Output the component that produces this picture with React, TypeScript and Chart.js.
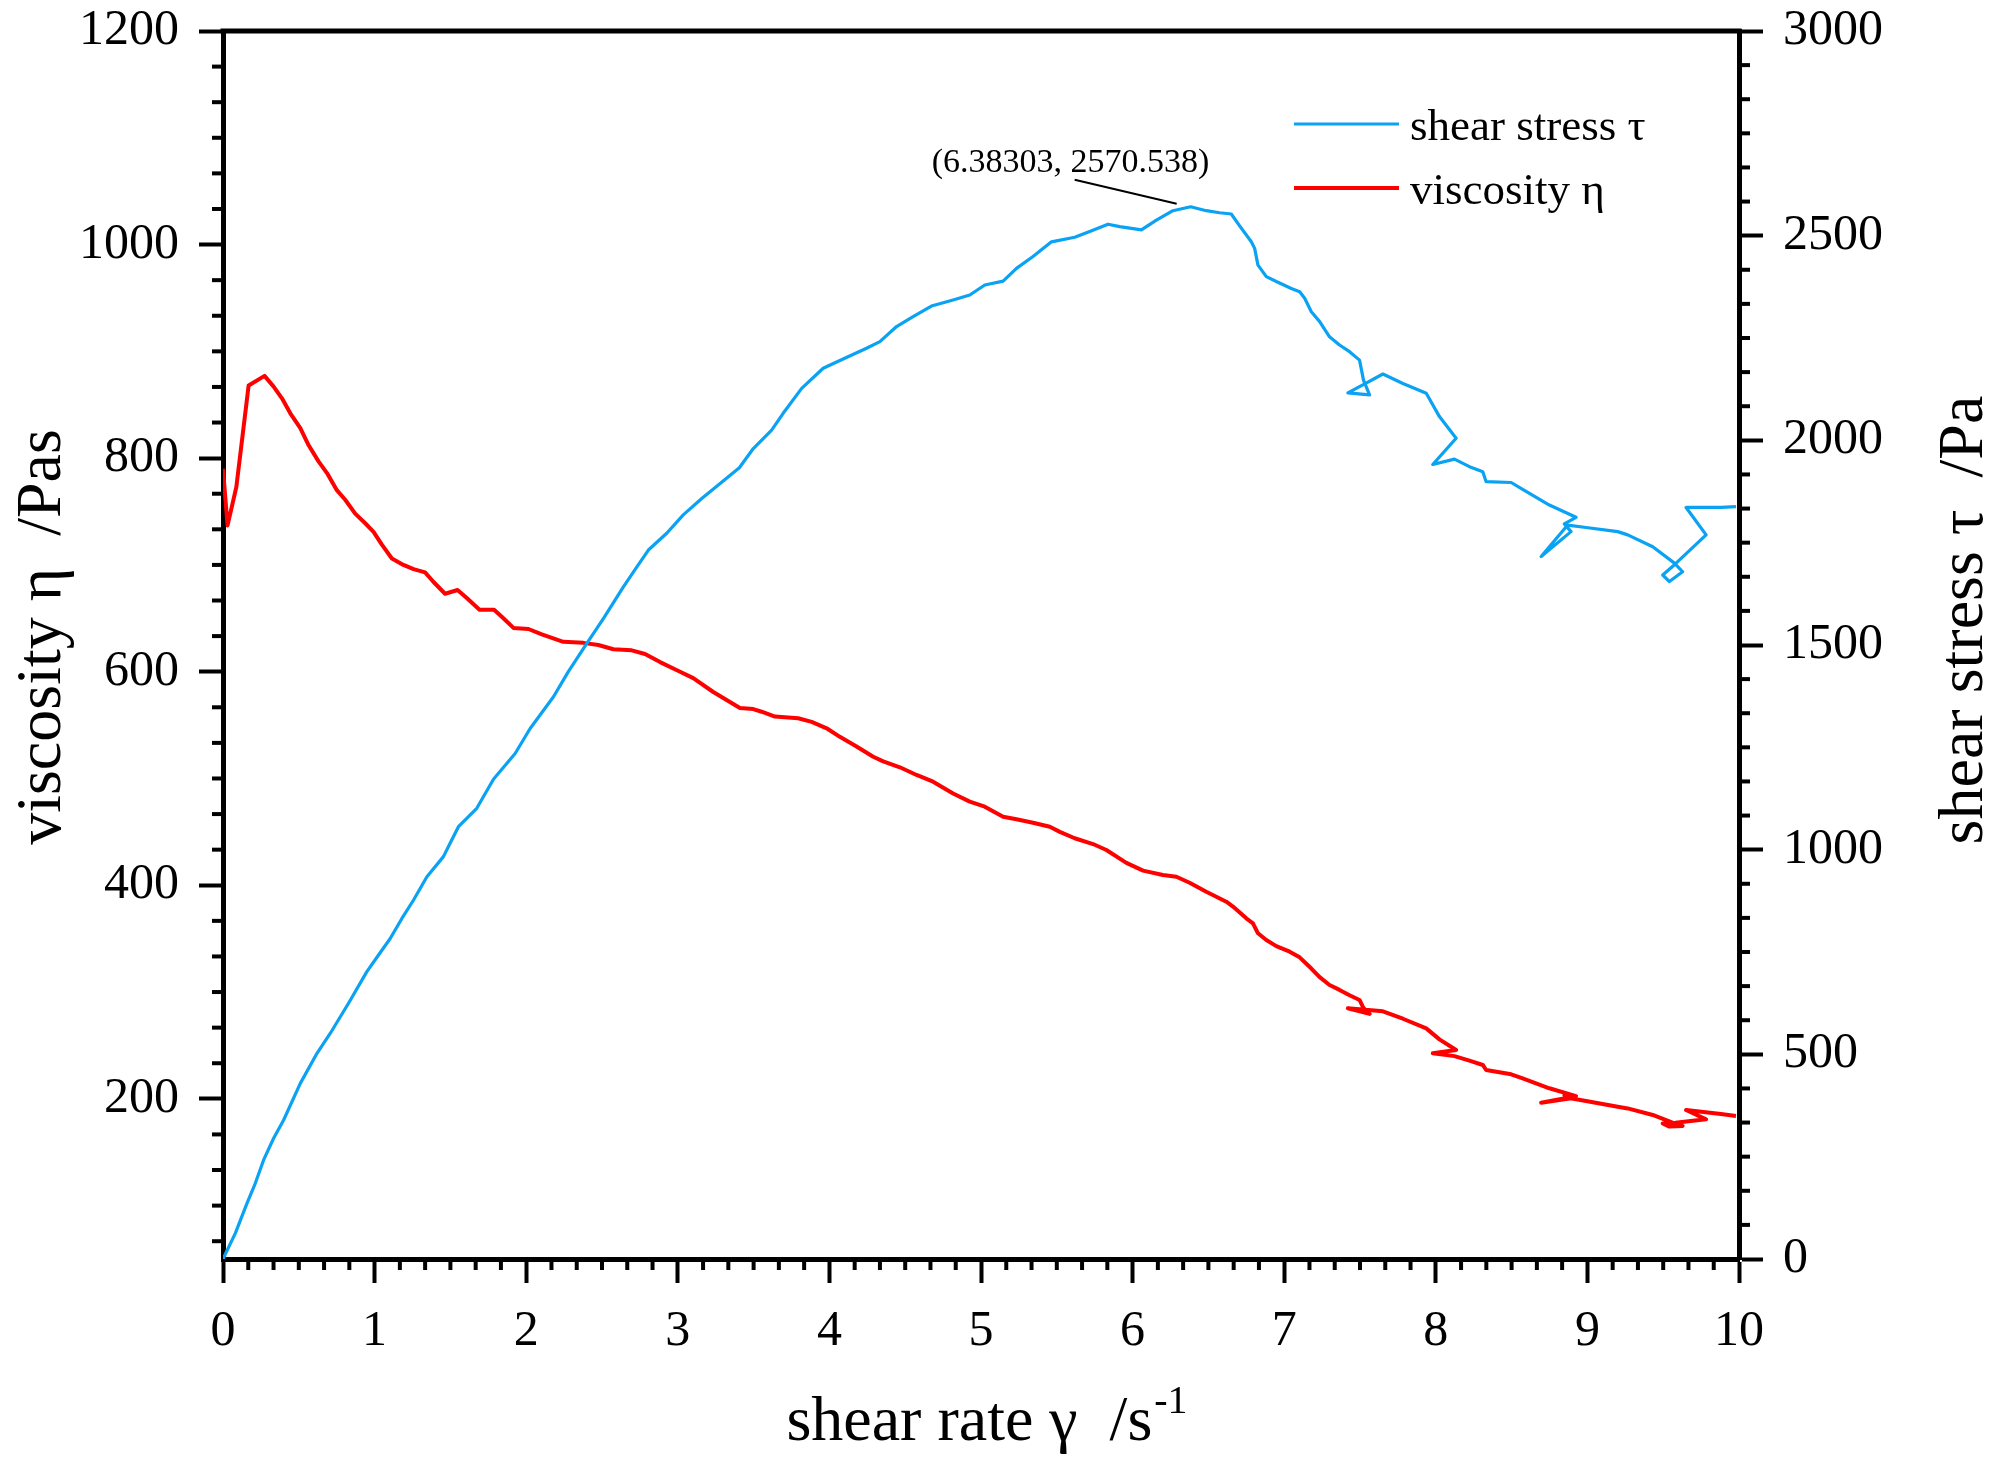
// App.tsx
import { useEffect, useRef } from 'react';
import { Chart, registerables, Plugin } from 'chart.js';

Chart.register(...registerables);

const SERIF = '"Liberation Serif", "Times New Roman", serif';
const BLUE = '#0AA2F2';
const RED = '#FF0000';

// shear stress tau (right axis) vs shear rate
const rateTau = [
    0, 0.081, 0.158, 0.213, 0.268, 0.334, 0.4, 0.51, 0.62, 0.707,
    0.828, 0.949, 1.026, 1.103, 1.18, 1.257, 1.345, 1.454, 1.498, 1.553,
    1.674, 1.784, 1.927, 2.026, 2.18, 2.278, 2.4, 2.51, 2.641, 2.73,
    2.806, 2.927, 3.036, 3.158, 3.267, 3.406, 3.498, 3.619, 3.695, 3.817,
    3.959, 4.069, 4.245, 4.333, 4.443, 4.552, 4.673, 4.816, 4.926, 5.025,
    5.146, 5.234, 5.343, 5.465, 5.618, 5.717, 5.838, 5.915, 6.058, 6.157,
    6.266, 6.38303, 6.486, 6.574, 6.651, 6.706, 6.783, 6.805, 6.827, 6.882,
    6.948, 7.047, 7.102, 7.135, 7.179, 7.234, 7.299, 7.365, 7.431, 7.497,
    7.523, 7.563, 7.42, 7.537, 7.651, 7.783, 7.937, 8.024, 8.134, 7.98,
    8.123, 8.222, 8.31, 8.332, 8.497, 8.573, 8.749, 8.925, 8.848, 8.892,
    8.695, 8.87, 8.991, 9.2, 9.266, 9.431, 9.574, 9.628, 9.541, 9.497,
    9.58, 9.783, 9.651, 9.881, 9.98,
];
const tau = [
    0, 62.7, 136, 185, 242, 295, 339.6, 429, 502.5, 551,
    624.7, 702, 742.7, 783, 832, 877, 934, 983, 1015.6, 1056,
    1101, 1172, 1235, 1296, 1373.7, 1435, 1504, 1565, 1642, 1691,
    1732, 1773, 1818, 1858, 1891, 1933, 1980, 2025, 2066, 2127,
    2176, 2195, 2225, 2241, 2278, 2302, 2328, 2343, 2355, 2379.5,
    2389, 2420, 2449, 2485, 2496, 2510, 2528, 2522, 2514, 2538,
    2561, 2570.538, 2561, 2556, 2553, 2524, 2485, 2469, 2428, 2400,
    2388, 2371, 2363, 2347, 2314, 2290, 2253, 2233, 2216.6, 2196,
    2147, 2111, 2116, 2139, 2162, 2139, 2115, 2058, 2005, 1941,
    1954, 1935.6, 1923, 1899, 1897, 1880, 1842, 1812, 1796, 1777,
    1716, 1793, 1787, 1777, 1769, 1740, 1700, 1679, 1655, 1671,
    1698, 1769, 1836, 1836, 1838,
];

// viscosity eta (left axis) vs shear rate
const rateEta = [
    0, 0.03, 0.088, 0.169, 0.274, 0.334, 0.389, 0.444, 0.51, 0.565,
    0.63, 0.686, 0.751, 0.806, 0.872, 0.938, 0.993, 1.048, 1.114, 1.19,
    1.257, 1.333, 1.389, 1.465, 1.547, 1.608, 1.692, 1.788, 1.839, 1.916,
    2.015, 2.103, 2.245, 2.377, 2.476, 2.575, 2.696, 2.784, 2.883, 3.015,
    3.102, 3.234, 3.41, 3.498, 3.553, 3.641, 3.794, 3.883, 3.982, 4.069,
    4.179, 4.289, 4.355, 4.465, 4.575, 4.684, 4.816, 4.926, 5.025, 5.146,
    5.234, 5.343, 5.454, 5.52, 5.618, 5.739, 5.827, 5.959, 6.069, 6.2,
    6.289, 6.376, 6.486, 6.618, 6.662, 6.75, 6.794, 6.827, 6.882, 6.948,
    7.036, 7.102, 7.179, 7.234, 7.299, 7.365, 7.431, 7.497, 7.523, 7.563,
    7.42, 7.537, 7.651, 7.783, 7.937, 8.024, 8.134, 7.98, 8.123, 8.222,
    8.31, 8.332, 8.497, 8.573, 8.749, 8.925, 8.848, 8.892, 8.695, 8.87,
    8.991, 9.2, 9.266, 9.431, 9.574, 9.628, 9.541, 9.497, 9.58, 9.783,
    9.651, 9.881, 9.98,
];
const eta = [
    790, 737, 773, 868, 877, 867, 856, 842, 828, 812,
    797, 786, 770, 761, 748, 739, 731, 719, 706, 700,
    696, 693, 684, 673, 676.5, 669, 658, 658, 651.5, 641,
    640, 635, 628, 627, 625, 621, 620, 616.6, 609, 600,
    594, 581, 566, 565, 562.5, 558, 556.4, 553, 547, 539,
    530, 520.4, 516, 510.5, 503.3, 497, 486, 478.3, 473.6, 464.2,
    461.8, 458.6, 454.8, 450, 444, 438.6, 433, 421, 413.7, 409.6,
    408, 402.4, 394, 384.6, 380, 369, 364.4, 355, 348.7, 343,
    337.8, 332.5, 322, 314, 306.6, 302, 297, 292.6, 285, 279.5,
    284.8, 283.5, 282, 275, 266, 255.7, 245.7, 242.6, 240, 235.7,
    231.7, 227, 223, 219.2, 209.9, 202.6, 203.5, 200.5, 196.4, 201,
    198, 192.6, 191, 184.9, 177, 174.6, 174, 177, 177.5, 180.8,
    189.5, 185.8, 184,
];

// labelled maximum of the stress curve
const peak = { x: 6.38303, y: 2570.538 };

const seriesNames = ['shear stress τ', 'viscosity η'];

const font = (size: number) => `${size}px ${SERIF}`;

// frame top line, minor ticks, axis titles, legend and peak label
const decorations: Plugin<'scatter'> = {
    id: 'decorations',
    afterDraw(chart) {
        const { ctx, chartArea: a, scales } = chart;
        const seg = (x1: number, y1: number, x2: number, y2: number) => {
            ctx.beginPath();
            ctx.moveTo(x1, y1);
            ctx.lineTo(x2, y2);
            ctx.stroke();
        };
        ctx.save();
        ctx.strokeStyle = '#000';
        ctx.lineCap = 'butt';

        // top border
        ctx.lineWidth = 5;
        seg(a.left - 2.5, a.top, a.right + 2.5, a.top);

        // minor ticks (6 intervals per major step)
        ctx.lineWidth = 4;
        const minor = 11;
        for (let k = 0; k <= 60; k++) {
            if (k % 6 === 0) continue;
            const px = scales.x.getPixelForValue(k / 6);
            seg(px, a.bottom, px, a.bottom + minor);
        }
        for (let k = -4; k <= 30; k++) {
            if (k % 6 === 0) continue;
            const v = 200 + (k * 200) / 6;
            if (v < 50) continue;
            const py = scales.y.getPixelForValue(v);
            seg(a.left, py, a.left - minor, py);
        }
        for (let k = 0; k <= 36; k++) {
            if (k % 6 === 0) continue;
            const py = scales.y1.getPixelForValue((k * 500) / 6);
            seg(a.right, py, a.right + minor, py);
        }

        ctx.fillStyle = '#000';
        ctx.textBaseline = 'alphabetic';

        // y titles (both read bottom to top)
        const midY = (a.top + a.bottom) / 2;
        ctx.font = font(64);
        ctx.textAlign = 'center';
        ctx.save();
        ctx.translate(a.left - 163, midY - 8);
        ctx.rotate(-Math.PI / 2);
        ctx.fillText('viscosity η  /Pas', 0, 0);
        ctx.restore();
        ctx.save();
        ctx.translate(a.right + 243, midY - 25);
        ctx.rotate(-Math.PI / 2);
        ctx.fillText('shear stress τ  /Pa', 0, 0);
        ctx.restore();

        // x title with superscript
        const main = 'shear rate γ  /s';
        const sup = '-1';
        ctx.font = font(64);
        const w1 = ctx.measureText(main).width;
        ctx.font = font(40);
        const w2 = ctx.measureText(sup).width;
        const x0 = (a.left + a.right) / 2 + 6 - (w1 + w2 + 2) / 2;
        ctx.textAlign = 'left';
        ctx.font = font(64);
        ctx.fillText(main, x0, a.bottom + 181);
        ctx.font = font(40);
        ctx.fillText(sup, x0 + w1 + 2, a.bottom + 154);

        // legend
        const lx = a.right - 445;
        const colors = [BLUE, RED];
        const widths = [3.2, 4];
        seriesNames.forEach((name, i) => {
            const ly = a.top + 93 + i * 64;
            ctx.strokeStyle = colors[i];
            ctx.lineWidth = widths[i];
            seg(lx, ly, lx + 105, ly);
            ctx.font = font(45);
            ctx.fillText(name, lx + 116, ly + 16);
        });

        // peak label with leader line
        const px = scales.x.getPixelForValue(peak.x);
        const py = scales.y1.getPixelForValue(peak.y);
        ctx.strokeStyle = '#000';
        ctx.lineWidth = 2;
        seg(px - 116, py - 27, px - 14, py - 3);
        ctx.font = font(34);
        ctx.fillText(`(${peak.x}, ${peak.y})`, px - 259, py - 35);

        ctx.restore();
    },
};

const tickFont = { family: SERIF, size: 50 };
const plainLabel = (v: number | string) => String(v);
const axisGrid = { drawOnChartArea: false, tickLength: 24, tickWidth: 4, tickColor: '#000' };
const axisBorder = { display: true, width: 5, color: '#000' };

const App = () => {
    const canvasRef = useRef<HTMLCanvasElement | null>(null);
    const chartInstance = useRef<Chart<'scatter'> | null>(null);

    useEffect(() => {
        if (!canvasRef.current) return;
        if (chartInstance.current) chartInstance.current.destroy();

        chartInstance.current = new Chart(canvasRef.current, {
            type: 'scatter',
            data: {
                datasets: [
                    {
                        label: seriesNames[0],
                        data: rateTau.map((x, i) => ({ x, y: tau[i] })),
                        yAxisID: 'y1',
                        showLine: true,
                        borderColor: BLUE,
                        backgroundColor: BLUE,
                        borderWidth: 3.2,
                        pointRadius: 0,
                        borderJoinStyle: 'round',
                    },
                    {
                        label: seriesNames[1],
                        data: rateEta.map((x, i) => ({ x, y: eta[i] })),
                        yAxisID: 'y',
                        showLine: true,
                        borderColor: RED,
                        backgroundColor: RED,
                        borderWidth: 4,
                        pointRadius: 0,
                        borderJoinStyle: 'round',
                    },
                ],
            },
            options: {
                responsive: true,
                maintainAspectRatio: false,
                animation: false,
                layout: { padding: { top: 31, left: 0, right: 0, bottom: 0 } },
                plugins: {
                    legend: { display: false },
                    tooltip: { enabled: false },
                },
                scales: {
                    x: {
                        type: 'linear',
                        position: 'bottom',
                        min: 0,
                        max: 10,
                        ticks: { stepSize: 1, font: tickFont, color: '#000', padding: 19, maxRotation: 0, callback: plainLabel },
                        grid: axisGrid,
                        border: axisBorder,
                        afterFit: (s) => {
                            s.height = 209;
                            s.paddingLeft = 0;
                            s.paddingRight = 0;
                        },
                    },
                    y: {
                        type: 'linear',
                        position: 'left',
                        min: 50,
                        max: 1200,
                        ticks: { stepSize: 200, font: tickFont, color: '#000', padding: 20, callback: plainLabel },
                        afterBuildTicks: (s) => {
                            s.ticks = s.ticks.filter((t) => t.value % 200 === 0);
                        },
                        grid: axisGrid,
                        border: axisBorder,
                        afterFit: (s) => {
                            s.width = 223;
                            s.paddingTop = 0;
                            s.paddingBottom = 0;
                        },
                    },
                    y1: {
                        type: 'linear',
                        position: 'right',
                        min: 0,
                        max: 3000,
                        ticks: { stepSize: 500, font: tickFont, color: '#000', padding: 20, callback: plainLabel },
                        grid: axisGrid,
                        border: axisBorder,
                        afterFit: (s) => {
                            s.width = 265;
                            s.paddingTop = 0;
                            s.paddingBottom = 0;
                        },
                    },
                },
            },
            plugins: [decorations],
        });

        return () => {
            if (chartInstance.current) {
                chartInstance.current.destroy();
                chartInstance.current = null;
            }
        };
    }, []);

    return (
        <div style={{ position: 'fixed', left: 0, top: 0, width: 2004, height: 1468, background: '#fff' }}>
            <canvas ref={canvasRef} />
        </div>
    );
};

export default App;
